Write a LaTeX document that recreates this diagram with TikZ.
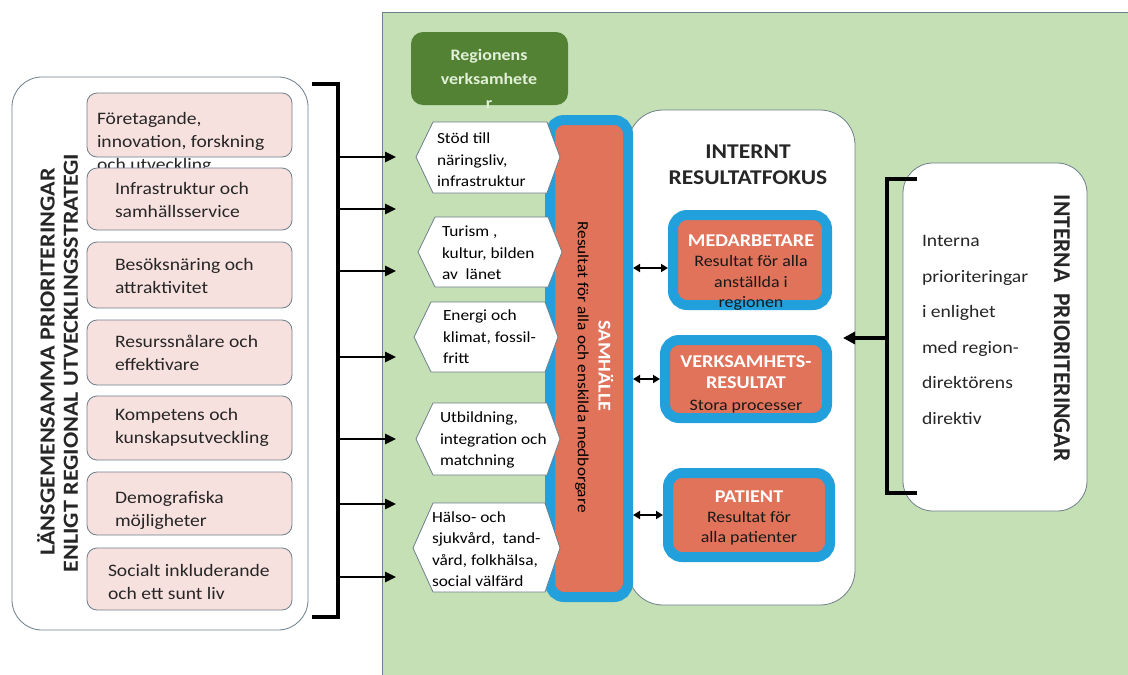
\documentclass[tikz,border=0pt]{standalone}
\usepackage{fontspec}
\setmainfont{Carlito}[FakeStretch=1.12]
\usetikzlibrary{arrows.meta}
\definecolor{greenbg}{HTML}{C5E0B4}
\definecolor{darkgreen}{HTML}{548235}
\definecolor{lightgreentext}{HTML}{E2F0D9}
\definecolor{pinkfill}{HTML}{F7E1DE}
\definecolor{bordergray}{HTML}{6E7F8C}
\definecolor{salmon}{HTML}{E0735A}
\definecolor{bluebord}{HTML}{22A0DC}
\definecolor{textdark}{HTML}{262626}
\tikzset{
  pinkbox/.style={draw=bordergray, fill=pinkfill, rounded corners=10pt, line width=0.8pt, minimum width=205pt, anchor=north west},
  pinktext/.style={anchor=west, align=left, text=textdark, font=\fontsize{17.5}{23}\selectfont},
  hexshape/.style={draw=bordergray, fill=white, line width=0.8pt, line join=round},
  hextext/.style={anchor=west, align=left, text=black, font=\fontsize{15.5}{21.5}\selectfont},
  bluebox/.style={draw=bluebord, fill=salmon, line width=10pt, rounded corners=14pt, anchor=north west},
  whitebox/.style={draw=bordergray, fill=white, line width=0.8pt, anchor=north west},
  boxtitle/.style={align=center, text=white, font=\bfseries\fontsize{18}{21}\selectfont},
  boxbody/.style={align=center, text=black!90, font=\fontsize{16}{20.5}\selectfont},
  bracketline/.style={line width=4.5pt, line cap=butt, line join=miter},
  feedarrow/.style={line width=2.5pt, -{Triangle[length=11pt,width=10pt]}},
  dblarrow/.style={line width=2.5pt, {Triangle[length=7pt,width=8pt]}-{Triangle[length=7pt,width=8pt]}},
  every node/.style={inner sep=0pt, outer sep=0pt}
}
\begin{document}
\begin{tikzpicture}[x=1pt,y=-1pt]
\useasboundingbox (0,0) rectangle (1128,675);
\fill[white] (0,0) rectangle (1128,675);

% green background
\fill[greenbg] (382,12) rectangle (1128,675);
\draw[bordergray, line width=0.8pt] (382,675) -- (382,12) -- (1128,12);

% left outer box
\node[whitebox, rounded corners=30pt, minimum width=296pt, minimum height=553pt] (outerL) at (12,77) {};
\node[rotate=90, font=\bfseries\fontsize{21.5}{24}\selectfont, text=textdark] (titleA) at (46,362) {LÄNSGEMENSAMMA PRIORITERINGAR};
\node[rotate=90, font=\bfseries\fontsize{21.5}{24}\selectfont, text=textdark] (titleB) at (71,363) {ENLIGT REGIONAL UTVECKLINGSSTRATEGI};

% pink boxes
\node[pinkbox, minimum height=64pt] (p1) at (87,93) {};
\node[pinktext] (p1t) at (97,143) {Företagande,\\innovation, forskning\\och utveckling};
\node[pinkbox, minimum height=62pt] (p2) at (87,168) {};
\node[pinktext] (p2t) at (115,200) {Infrastruktur och\\samhällsservice};
\node[pinkbox, minimum height=66pt] (p3) at (87,242) {};
\node[pinktext] (p3t) at (115,276) {Besöksnäring och\\attraktivitet};
\node[pinkbox, minimum height=65pt] (p4) at (87,320) {};
\node[pinktext] (p4t) at (115,353) {Resurssnålare och\\effektivare};
\node[pinkbox, minimum height=64pt] (p5) at (87,396) {};
\node[pinktext] (p5t) at (115,427) {Kompetens och\\kunskapsutveckling};
\node[pinkbox, minimum height=63pt] (p6) at (87,472) {};
\node[pinktext] (p6t) at (115,510) {Demografiska\\möjligheter};
\node[pinkbox, minimum height=62pt] (p7) at (87,548) {};
\node[pinktext] (p7t) at (108,582) {Socialt inkluderande\\och ett sunt liv};

% left bracket and arrows
\coordinate (lbtop) at (338,84);
\coordinate (lbbot) at (338,617);
\draw[bracketline] (312,84) -- (lbtop) -- (lbbot) -- (312,617);
\foreach \yy [count=\i] in {157,209,271,357,439,504,577} {
  \coordinate (la\i) at (338,\yy);
  \coordinate (lb\i) at (396,\yy);
  \draw[feedarrow] (la\i) -- (lb\i);
}

% green header
\node[fill=darkgreen, rounded corners=12pt, minimum width=157pt, minimum height=73pt, anchor=north west] (reg) at (411,32) {};
\node[align=center, text=lightgreentext, font=\bfseries\fontsize{16}{24}\selectfont] (regt) at (489,79) {Regionens\\verksamhete\\r};

% internal results box
\node[whitebox, rounded corners=35pt, minimum width=227pt, minimum height=495pt] (intres) at (628,110) {};
\node[align=center, text=textdark, font=\bfseries\fontsize{21}{26}\selectfont] (intrest) at (748,165) {INTERNT\\RESULTATFOKUS};

% samhalle box
\node[bluebox, minimum width=78pt, minimum height=477pt] (samh) at (550,120) {};
\node[rotate=-90, text=white, font=\bfseries\fontsize{18}{18}\selectfont] (samht) at (606,366) {SAMHÄLLE};
\node[rotate=-90, text=black, font=\fontsize{15.5}{18}\selectfont] (samhr) at (582,367) {Resultat för alla och enskilda medborgare};

% hexagons (drawn over the samhalle box)
\draw[hexshape] (416,157) -- (433,122) -- (547,122) -- (560,157) -- (547,193) -- (433,193) -- cycle;
\node[hextext] (h1) at (437,160) {Stöd till\\näringsliv,\\infrastruktur};
\draw[hexshape] (418,252) -- (435,217) -- (548,217) -- (562,252) -- (548,287) -- (435,287) -- cycle;
\node[hextext] (h2) at (442,253) {Turism ,\\kultur, bilden\\av \ länet};
\draw[hexshape] (414,337) -- (431,302) -- (545,302) -- (558,337) -- (545,372) -- (431,372) -- cycle;
\node[hextext] (h3) at (443,337) {Energi och\\klimat, fossil-\\fritt};
\draw[hexshape] (416,439) -- (433,403) -- (547,403) -- (560,439) -- (547,475) -- (433,475) -- cycle;
\node[hextext] (h4) at (440,440) {Utbildning,\\integration och\\matchning};
\draw[hexshape] (413,548) -- (433,503) -- (545,503) -- (560,548) -- (545,592) -- (433,592) -- cycle;
\node[hextext] (h5) at (432,549) {Hälso- och\\sjukvård, \ tand-\\vård, folkhälsa,\\social välfärd};

% result boxes
\node[bluebox, minimum width=154pt, minimum height=90pt] (med) at (673,215) {};
\node[boxtitle] (medh) at (751,241) {MEDARBETARE};
\node[boxbody] (medb) at (751,283) {Resultat för alla\\anställda i\\regionen};
\node[bluebox, minimum width=162pt, minimum height=78pt] (verk) at (665,340) {};
\node[boxtitle] (verkh) at (746,372) {VERKSAMHETS-\\RESULTAT};
\node[boxbody] (verkb) at (746,407) {Stora processer};
\node[bluebox, minimum width=162pt, minimum height=84pt] (pat) at (668,473) {};
\node[boxtitle] (path) at (749,497) {PATIENT};
\node[boxbody] (patb) at (749,528) {Resultat för\\alla patienter};

% double arrows
\coordinate (ym) at (0,268);
\draw[dblarrow] ([xshift=5pt]samh.east |- ym) -- ([xshift=-5pt]med.west |- ym);
\draw[dblarrow] ([xshift=5pt]samh.east |- verk.west) -- ([xshift=-5pt]verk.west);
\draw[dblarrow] ([xshift=5pt]samh.east |- pat.west) -- ([xshift=-5pt]pat.west);

% interna prioriteringar
\node[whitebox, rounded corners=30pt, minimum width=184pt, minimum height=348pt] (intp) at (903,163) {};
\node[anchor=west, align=left, text=textdark, font=\fontsize{17.5}{35.5}\selectfont] (intpt) at (922,330) {Interna\\prioriteringar\\i enlighet\\med region-\\direktörens\\direktiv};
\node[rotate=-90, text=textdark, font=\bfseries\fontsize{21}{24}\selectfont] (intph) at (1062,328) {\scalebox{1}[1.15]{INTERNA \ PRIORITERINGAR}};

% right bracket and arrow
\draw[bracketline] (917,179) -- (887,179) -- (887,493) -- (917,493);
\coordinate (rb) at (887,338);
\draw[line width=4pt, -{Triangle[length=12pt,width=12pt]}] (rb) -- ([xshift=-12pt]intres.east |- rb);

\end{tikzpicture}
\end{document}
